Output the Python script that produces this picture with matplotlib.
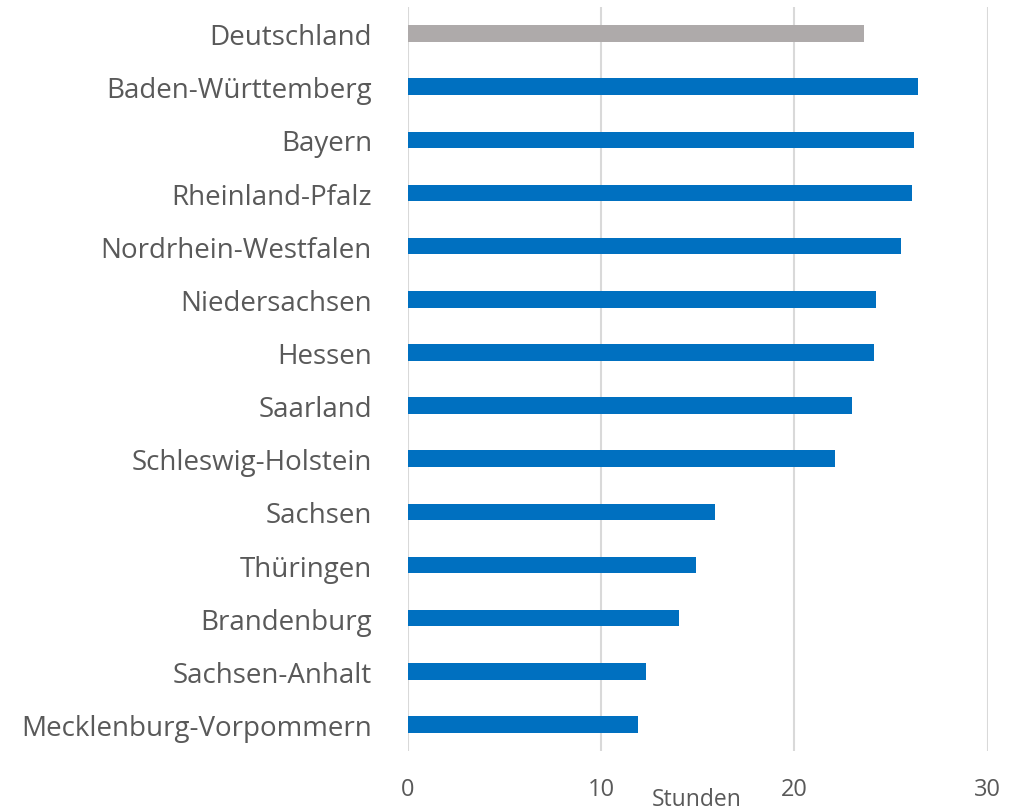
import matplotlib
matplotlib.use("Agg")
import matplotlib.pyplot as plt

categories = ["Deutschland", "Baden-Württemberg", "Bayern", "Rheinland-Pfalz",
              "Nordrhein-Westfalen", "Niedersachsen", "Hessen", "Saarland",
              "Schleswig-Holstein", "Sachsen", "Thüringen", "Brandenburg",
              "Sachsen-Anhalt", "Mecklenburg-Vorpommern"]
values = [23.6, 26.4, 26.2, 26.1, 25.5, 24.2, 24.1, 23.0, 22.1, 15.9, 14.9, 14.0, 12.3, 11.9]
bar_colors = ["#AEAAAA"] + ["#0070C0"] * 13
x_ticks = [0, 10, 20, 30]
x_label = "Stunden"

plt.rcParams["font.family"] = ["Open Sans", "DejaVu Sans"]

fig = plt.figure(figsize=(10.18, 8.12), dpi=100)
ax = fig.add_axes([408/1018, 60/812, 579.7/1018, 744/812])

pos = list(range(len(categories)))
ax.barh(pos, values, height=0.31, color=bar_colors, zorder=3)
ax.set_ylim(len(categories) - 0.5, -0.5)
ax.set_xlim(0, 30)
ax.set_xticks(x_ticks)
ax.set_yticks(pos)
ax.set_yticklabels(categories, fontsize=20, color="#595959")
ax.tick_params(axis="y", length=0, pad=26)
ax.tick_params(axis="x", length=0, pad=19, labelsize=17, labelcolor="#595959")
ax.xaxis.grid(True, color="#D9D9D9", linewidth=1.5, zorder=0)
for s in ax.spines.values():
    s.set_visible(False)
fig.text(697/1018, 1 - 800/812, x_label, ha="center", va="center", fontsize=16.5, color="#595959")

fig.savefig("out.png", dpi=100)
